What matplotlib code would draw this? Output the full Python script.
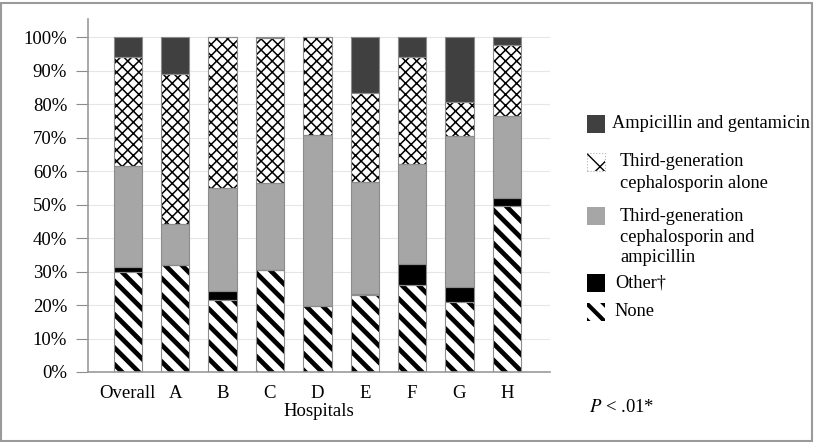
import numpy as np
import matplotlib
matplotlib.use("Agg")
import matplotlib.pyplot as plt
from matplotlib.patches import Rectangle

# percentages (bottom segment first)
hospitals = ["Overall", "A", "B", "C", "D", "E", "F", "G", "H"]
none_pct = [30.0, 31.8, 21.4, 30.4, 19.6, 22.9, 25.9, 20.9, 49.5]
other_pct = [1.4, 0.0, 2.7, 0.0, 0.0, 0.4, 6.2, 4.5, 2.6]
ceph_amp_pct = [30.1, 12.5, 30.7, 25.9, 51.1, 33.4, 29.9, 45.0, 24.3]
ceph_alone_pct = [32.6, 44.8, 45.2, 43.3, 29.3, 26.5, 32.1, 10.3, 21.1]
amp_gent_pct = [5.9, 10.9, 0.0, 0.4, 0.0, 16.8, 5.9, 19.3, 2.5]

labels = ["Ampicillin and gentamicin",
          "Third-generation\ncephalosporin alone",
          "Third-generation\ncephalosporin and\nampicillin",
          "Other\u2020",
          "None"]

plt.rcParams['font.family'] = ['Liberation Serif', 'DejaVu Serif']
plt.rcParams['mathtext.fontset'] = 'stix'
FS = 13.5

W, H = 815, 442
fig = plt.figure(figsize=(W / 100, H / 100), dpi=100)
ax = fig.add_axes([88 / W, 1 - 372 / H, (550 - 88) / W, (372 - 19) / H])

x = np.arange(len(hospitals))
width = 0.6
edge = '#8c8c8c'

# segment styles: (values, facecolor, hatch, hatch linewidth)
segments = [
    (none_pct, 'white', '\\\\', 3.4),
    (other_pct, 'black', None, 1.0),
    (ceph_amp_pct, '#a6a6a6', None, 1.0),
    (ceph_alone_pct, 'white', 'xxx', 1.1),
    (amp_gent_pct, '#404040', None, 1.0),
]

bottom = np.zeros(len(hospitals))
for vals, fc, hatch, hlw in segments:
    vals = np.array(vals)
    plt.rcParams['hatch.linewidth'] = hlw
    plt.rcParams['hatch.color'] = 'black'
    ax.bar(x, vals, width, bottom=bottom, color=fc, hatch=hatch,
           edgecolor='black' if hatch else fc, linewidth=0, zorder=2)
    ax.bar(x, vals, width, bottom=bottom, fill=False, edgecolor=edge,
           linewidth=0.8, zorder=3)
    bottom = bottom + vals

ax.set_xlim(-0.84, 8.91)
ax.set_ylim(0, 105.4)
ax.set_yticks(np.arange(0, 101, 10))
ax.set_yticklabels([f"{v}%" for v in range(0, 101, 10)], fontsize=FS)
ax.set_xticks(x)
ax.set_xticklabels(hospitals, fontsize=FS)
ax.tick_params(axis='x', length=0, pad=9)
ax.tick_params(axis='y', length=9, color='#8c8c8c', width=0.8, pad=6)
ax.grid(axis='y', color='#e6e6e6', linewidth=0.8, zorder=0)
ax.set_axisbelow(True)
for s in ['top', 'right']:
    ax.spines[s].set_visible(False)
for s in ['left', 'bottom']:
    ax.spines[s].set_color('#9a9a9a')
    ax.spines[s].set_linewidth(1.2)
ax.set_xlabel("Hospitals", fontsize=FS, labelpad=1)

# legend drawn by hand
leg_styles = [('#404040', None, 1.0), ('white', 'x', 1.0), ('#a6a6a6', None, 1.0),
              ('black', None, 1.0), ('white', '\\\\', 3.0)]
leg_y = [124, 162, 216, 283, 312]
leg_tx = [612, 620, 620, 615, 614]
for lab, (fc, hatch, hlw), yc, tx in zip(labels, leg_styles, leg_y, leg_tx):
    plt.rcParams['hatch.linewidth'] = hlw
    r = Rectangle((587 / W, 1 - (yc + 9) / H), 18 / W, 18 / H, transform=fig.transFigure,
                  facecolor=fc, hatch=hatch, edgecolor='black' if hatch else fc,
                  linewidth=0)
    fig.patches.append(r)
    if hatch == 'x':
        fig.patches.append(Rectangle((587 / W, 1 - (yc + 9) / H), 18 / W, 18 / H,
                                     transform=fig.transFigure, fill=False,
                                     edgecolor='#b0b0b0', linewidth=0.8, linestyle=':'))
    for i, line in enumerate(lab.split("\n")):
        fig.text(tx / W, 1 - (yc + i * 21) / H, line, fontsize=13.2, va='center', ha='left')

fig.text(589 / W, 1 - 408 / H, r"$P$ < .01*", fontsize=FS, va='center', ha='left')

# outer frame
fig.patches.append(Rectangle((1 / W, 1 / H), (W - 4) / W, (H - 4) / H, transform=fig.transFigure,
                             fill=False, edgecolor='#9a9a9a', linewidth=1.5))

fig.savefig("out.png", dpi=100)
